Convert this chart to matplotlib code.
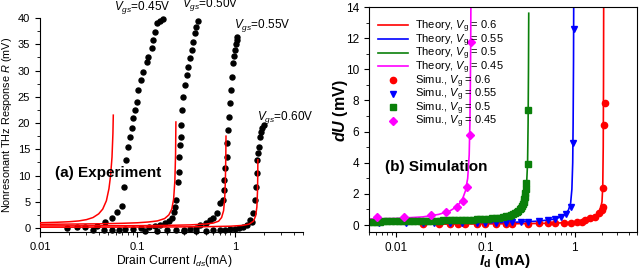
import matplotlib
matplotlib.use("Agg")
import matplotlib.pyplot as plt
from matplotlib.ticker import MultipleLocator, LogLocator, NullFormatter, FixedFormatter, FixedLocator

plt.rcParams['font.family'] = ['Liberation Sans', 'DejaVu Sans']
plt.rcParams['mathtext.fontset'] = 'custom'
plt.rcParams['mathtext.rm'] = 'Liberation Sans'
plt.rcParams['mathtext.it'] = 'Liberation Sans:italic'
plt.rcParams['mathtext.bf'] = 'Liberation Sans:bold'
plt.rcParams['mathtext.bfit'] = 'Liberation Sans:bold:italic'

# ========= (a) Experiment: datos medidos =========
exp045_x = [0.019, 0.024, 0.029, 0.038, 0.046, 0.055, 0.062, 0.069, 0.0728, 0.076, 0.080, 0.083,
            0.088, 0.090, 0.094, 0.098, 0.101, 0.108, 0.114, 0.125, 0.128, 0.140, 0.144, 0.151,
            0.158, 0.170, 0.183]
exp045_y = [0.0, 0.1, 0.2, 0.4, 1.1, 2.0, 3.0, 4.2, 7.8, 13.0, 15.5, 17.4,
            19.0, 21.0, 22.5, 24.0, 26.3, 28.2, 29.8, 31.7, 32.6, 34.2, 35.8, 37.4,
            39.0, 39.4, 39.8]

exp050_x = [0.035, 0.045, 0.055, 0.065, 0.075, 0.09, 0.11, 0.13, 0.15, 0.17, 0.19, 0.21, 0.225,
            0.238, 0.245, 0.25, 0.26, 0.266, 0.27, 0.272, 0.278, 0.28, 0.285, 0.29, 0.306, 0.32,
            0.33, 0.345, 0.36, 0.37, 0.39, 0.40, 0.42]
exp050_y = [-0.4, -0.4, -0.3, -0.3, -0.2, -0.1, 0.0, 0.2, 0.4, 0.6, 0.9, 1.4, 2.0,
            3.0, 4.0, 5.3, 8.8, 10.7, 13.5, 15.8, 17.4, 19.6, 22.5, 25.0, 27.2, 29.1,
            30.7, 32.3, 33.9, 35.4, 37.1, 38.3, 39.4]

exp055_x = [0.12, 0.16, 0.2, 0.25, 0.3, 0.35, 0.4, 0.44, 0.5, 0.55, 0.6, 0.65, 0.7, 0.75, 0.77,
            0.78, 0.80, 0.82, 0.83, 0.85, 0.87, 0.89, 0.92, 0.94, 0.95, 0.98, 1.0, 1.02, 1.04, 1.05]
exp055_y = [-0.5, -0.5, -0.4, -0.4, -0.3, -0.2, 0.0, 0.6, 1.0, 1.5, 2.0, 2.8, 4.7, 5.3, 7.2,
            9.1, 11.4, 13.5, 16.2, 18.7, 21.1, 23.8, 26.3, 28.8, 31.4, 32.7, 33.9, 35.0, 35.8, 36.4]

exp060_x = [0.3, 0.4, 0.5, 0.6, 0.7, 0.8, 0.9, 1.0, 1.1, 1.2, 1.33, 1.43, 1.5, 1.53, 1.6,
            1.65, 1.67, 1.7, 1.74, 1.77, 1.82, 1.86, 1.9, 1.97]
exp060_y = [-0.5, -0.5, -0.5, -0.4, -0.4, -0.3, -0.2, -0.1, 0.0, 0.2, 0.6, 1.5, 1.1, 2.8, 5.3,
            7.8, 10.4, 13.0, 14.3, 15.5, 17.4, 18.3, 19.0, 19.6]

# curvas teóricas (rojo)
tha1_x = [0.01, 0.015, 0.02, 0.025, 0.03, 0.035, 0.04, 0.044, 0.048, 0.051, 0.053, 0.0548, 0.056, 0.0565]
tha1_y = [1.0, 1.1, 1.2, 1.35, 1.6, 2.0, 2.7, 3.6, 5.2, 7.5, 10.0, 13.5, 18.0, 21.5]
tha2_x = [0.01, 0.02, 0.04, 0.07, 0.1, 0.13, 0.16, 0.19, 0.21, 0.225, 0.235, 0.242, 0.246, 0.248]
tha2_y = [0.7, 0.75, 0.8, 0.9, 1.0, 1.15, 1.35, 1.8, 2.5, 3.6, 5.5, 9.0, 14.0, 20.2]
tha3_x = [0.01, 0.03, 0.1, 0.2, 0.35, 0.5, 0.6, 0.68, 0.73, 0.765, 0.785, 0.798, 0.806, 0.81]
tha3_y = [0.4, 0.42, 0.45, 0.5, 0.6, 0.75, 0.95, 1.3, 2.0, 3.3, 5.5, 9.0, 13.5, 17.5]
tha4_x = [0.01, 0.05, 0.2, 0.5, 0.9, 1.2, 1.4, 1.55, 1.63, 1.68, 1.705, 1.715, 1.72]
tha4_y = [0.15, 0.17, 0.2, 0.25, 0.35, 0.5, 0.75, 1.3, 2.3, 4.0, 7.0, 10.0, 13.0]

vgs_labels = [r'$V_{gs}$=0.45V', r'$V_{gs}$=0.50V', r'$V_{gs}$=0.55V', r'$V_{gs}$=0.60V']

# ========= (b) Simulation =========
thb06_x = [0.019, 0.05, 0.1, 0.3, 0.6, 1.0, 1.3, 1.6, 1.8, 1.93, 2.02, 2.06, 2.085, 2.1, 2.11]
thb06_y = [0.05, 0.06, 0.07, 0.09, 0.12, 0.18, 0.25, 0.4, 0.62, 0.95, 1.5, 2.5, 5.0, 9.0, 14.5]
thb055_x = [0.005, 0.01, 0.05, 0.1, 0.2, 0.4, 0.6, 0.75, 0.85, 0.9, 0.93, 0.95, 0.96, 0.97, 0.975]
thb055_y = [0.12, 0.12, 0.13, 0.14, 0.17, 0.25, 0.38, 0.6, 0.95, 1.4, 2.3, 4.0, 6.5, 10.5, 14.5]
thb05_x = [0.005, 0.01, 0.02, 0.05, 0.1, 0.15, 0.2, 0.24, 0.265, 0.28, 0.29, 0.297, 0.301, 0.304, 0.306]
thb05_y = [0.22, 0.24, 0.26, 0.3, 0.37, 0.47, 0.65, 0.95, 1.35, 1.9, 2.7, 4.0, 6.5, 10.0, 13.6]
thb045_x = [0.005, 0.01, 0.02, 0.03, 0.04, 0.048, 0.055, 0.06, 0.0635, 0.066, 0.0672, 0.068, 0.0686, 0.069]
thb045_y = [0.38, 0.42, 0.52, 0.68, 0.9, 1.18, 1.6, 2.2, 3.0, 4.5, 6.5, 9.0, 11.5, 14.5]

sim06_x = [0.02, 0.03, 0.04, 0.05, 0.06, 0.08, 0.1, 0.13, 0.17, 0.2, 0.3, 0.4, 0.5, 0.6, 0.75,
           0.9, 1.05, 1.2, 1.31, 1.5, 1.67, 1.89, 2.0, 2.05, 2.09, 2.15, 2.18]
sim06_y = [0.05, 0.05, 0.05, 0.05, 0.06, 0.06, 0.07, 0.07, 0.08, 0.08, 0.09, 0.1, 0.11, 0.12, 0.14,
           0.16, 0.18, 0.22, 0.32, 0.43, 0.53, 0.75, 0.96, 1.18, 2.36, 6.42, 7.82]
sim055_x = [0.0065, 0.013, 0.02, 0.027, 0.04, 0.055, 0.08, 0.1, 0.13, 0.17, 0.2, 0.25, 0.3, 0.4,
            0.5, 0.6, 0.7, 0.8, 0.9, 0.957, 0.97]
sim055_y = [0.12, 0.12, 0.12, 0.12, 0.13, 0.13, 0.13, 0.14, 0.15, 0.16, 0.17, 0.2, 0.22, 0.25,
            0.3, 0.38, 0.5, 0.7, 1.15, 5.25, 12.57]
sim05_x = [0.0050, 0.0055, 0.0060, 0.0066, 0.0073, 0.0080, 0.0088, 0.0097, 0.0107, 0.0118, 0.013,
           0.0143, 0.0157, 0.0173, 0.019, 0.021, 0.023, 0.0255, 0.028, 0.031, 0.034, 0.0375, 0.041,
           0.045, 0.05, 0.055, 0.06, 0.066, 0.073, 0.08, 0.088, 0.097, 0.107, 0.118, 0.13, 0.143,
           0.157, 0.17, 0.182, 0.194, 0.205, 0.215, 0.225, 0.234, 0.242, 0.25, 0.257, 0.263, 0.268,
           0.273, 0.277, 0.281, 0.284, 0.288, 0.297, 0.301]
sim05_y = [0.22, 0.22, 0.22, 0.22, 0.23, 0.23, 0.23, 0.24, 0.24, 0.24, 0.25,
           0.25, 0.25, 0.26, 0.26, 0.26, 0.27, 0.27, 0.28, 0.28, 0.29, 0.29, 0.3,
           0.3, 0.31, 0.32, 0.33, 0.34, 0.35, 0.36, 0.37, 0.39, 0.41, 0.43, 0.45, 0.48,
           0.52, 0.56, 0.61, 0.66, 0.72, 0.78, 0.85, 0.93, 1.02, 1.12, 1.24, 1.37, 1.5,
           1.64, 1.8, 2.04, 2.3, 2.72, 3.92, 7.39]
sim045_x = [0.0062, 0.0123, 0.0248, 0.0365, 0.0484, 0.0559, 0.0627, 0.0671, 0.0694]
sim045_y = [0.49, 0.49, 0.64, 0.86, 1.18, 1.56, 2.46, 5.78, 11.77]

C_RED = '#ff0000'
C_BLUE = '#0000ff'
C_GREEN = '#0a800a'
C_MAG = '#ff00ff'

fig = plt.figure(figsize=(6.4, 2.69), dpi=100)

# ========= panel (a) =========
axA = fig.add_axes([0.0625, 0.1375, 0.411, 0.7955])
for xs, ys in [(exp045_x, exp045_y), (exp050_x, exp050_y), (exp055_x, exp055_y), (exp060_x, exp060_y)]:
    axA.plot(xs, ys, 'o', color='black', ms=3.6, mec='black', clip_on=False, zorder=2)
for xs, ys in [(tha1_x, tha1_y), (tha2_x, tha2_y), (tha3_x, tha3_y), (tha4_x, tha4_y)]:
    axA.plot(xs, ys, '-', color=C_RED, lw=1.1, zorder=3)

axA.set_xscale('log')
axA.set_xlim(0.01, 5)
axA.set_ylim(-0.76, 40)
axA.spines['top'].set_visible(False)
axA.spines['right'].set_visible(False)
axA.yaxis.set_major_locator(MultipleLocator(5))
axA.yaxis.set_minor_locator(MultipleLocator(2.5))
axA.xaxis.set_major_locator(FixedLocator([0.01, 0.1, 1]))
axA.xaxis.set_major_formatter(FixedFormatter(['0.01', '0.1', '1']))
axA.xaxis.set_minor_locator(LogLocator(base=10, subs=range(2, 10)))
axA.xaxis.set_minor_formatter(NullFormatter())
axA.tick_params(which='major', direction='out', length=3.5, width=0.8, labelsize=8)
axA.tick_params(which='minor', direction='out', length=2, width=0.6)
axA.set_ylabel(r'Nonresonant THz Response $R$ (mV)', fontsize=7.8)
axA.yaxis.set_label_coords(-0.098, 0.5)
axA.set_xlabel(r'Drain Current $I_{ds}$(mA)', fontsize=8.7)
axA.xaxis.set_label_coords(0.51, -0.10)

fig.text(142 / 640, 1 - 8 / 269, vgs_labels[0], fontsize=8.5, ha='center', va='center')
fig.text(210 / 640, 1 - 5 / 269, vgs_labels[1], fontsize=8.5, ha='center', va='center')
fig.text(262 / 640, 1 - 25 / 269, vgs_labels[2], fontsize=8.5, ha='center', va='center')
fig.text(285 / 640, 1 - 117 / 269, vgs_labels[3], fontsize=8.5, ha='center', va='center')
fig.text(55 / 640, 1 - 173 / 269, '(a) Experiment', fontsize=11, fontweight='bold', ha='left', va='center')

# ========= panel (b) =========
axB = fig.add_axes([0.5766, 0.1375, 0.419, 0.8364])
axB.plot(thb06_x, thb06_y, '-', color=C_RED, lw=1.2, label=r'Theory, $V_\mathrm{g}$ = 0.6')
axB.plot(thb055_x, thb055_y, '-', color=C_BLUE, lw=1.2, label=r'Theory, $V_\mathrm{g}$ = 0.55')
axB.plot(thb05_x, thb05_y, '-', color=C_GREEN, lw=1.2, label=r'Theory, $V_\mathrm{g}$ = 0.5')
axB.plot(thb045_x, thb045_y, '-', color=C_MAG, lw=1.2, label=r'Theory, $V_\mathrm{g}$ = 0.45')
axB.plot(sim06_x, sim06_y, 'o', color=C_RED, ms=4.5, ls='none', label=r'Simu., $V_\mathrm{g}$ = 0.6')
axB.plot(sim055_x, sim055_y, 'v', color=C_BLUE, ms=4.8, ls='none', label=r'Simu., $V_\mathrm{g}$ = 0.55')
axB.plot(sim05_x, sim05_y, 's', color=C_GREEN, ms=4.0, ls='none', label=r'Simu., $V_\mathrm{g}$ = 0.5')
axB.plot(sim045_x, sim045_y, 'D', color=C_MAG, ms=4.3, ls='none', label=r'Simu., $V_\mathrm{g}$ = 0.45')

axB.set_xscale('log')
axB.set_xlim(0.005, 5)
axB.set_ylim(-0.45, 14)
axB.yaxis.set_major_locator(MultipleLocator(2))
axB.yaxis.set_minor_locator(MultipleLocator(1))
axB.xaxis.set_major_locator(FixedLocator([0.01, 0.1, 1]))
axB.xaxis.set_major_formatter(FixedFormatter(['0.01', '0.1', '1']))
axB.xaxis.set_minor_locator(LogLocator(base=10, subs=range(2, 10)))
axB.xaxis.set_minor_formatter(NullFormatter())
axB.tick_params(which='major', direction='out', length=3.5, width=0.8, labelsize=8.5)
axB.tick_params(which='minor', direction='out', length=2, width=0.6)
for sp in axB.spines.values():
    sp.set_linewidth(0.8)
axB.set_ylabel(r'$\mathbfit{dU}$ (mV)', fontsize=11.5, fontweight='bold')
axB.yaxis.set_label_coords(-0.072, 0.54)
axB.set_xlabel(r'$\mathbfit{I}_\mathbf{d}$ (mA)', fontsize=11, fontweight='bold')
axB.xaxis.set_label_coords(0.507, -0.088)

axB.legend(loc='upper left', bbox_to_anchor=(0.034, 0.948), frameon=False, fontsize=8,
           handlelength=2.7, handletextpad=0.6, labelspacing=-0.25, borderpad=0,
           borderaxespad=0, numpoints=1)

fig.text(385 / 640, 1 - 167 / 269, '(b) Simulation', fontsize=11, fontweight='bold', ha='left', va='center')

fig.savefig('out.png', dpi=100)
